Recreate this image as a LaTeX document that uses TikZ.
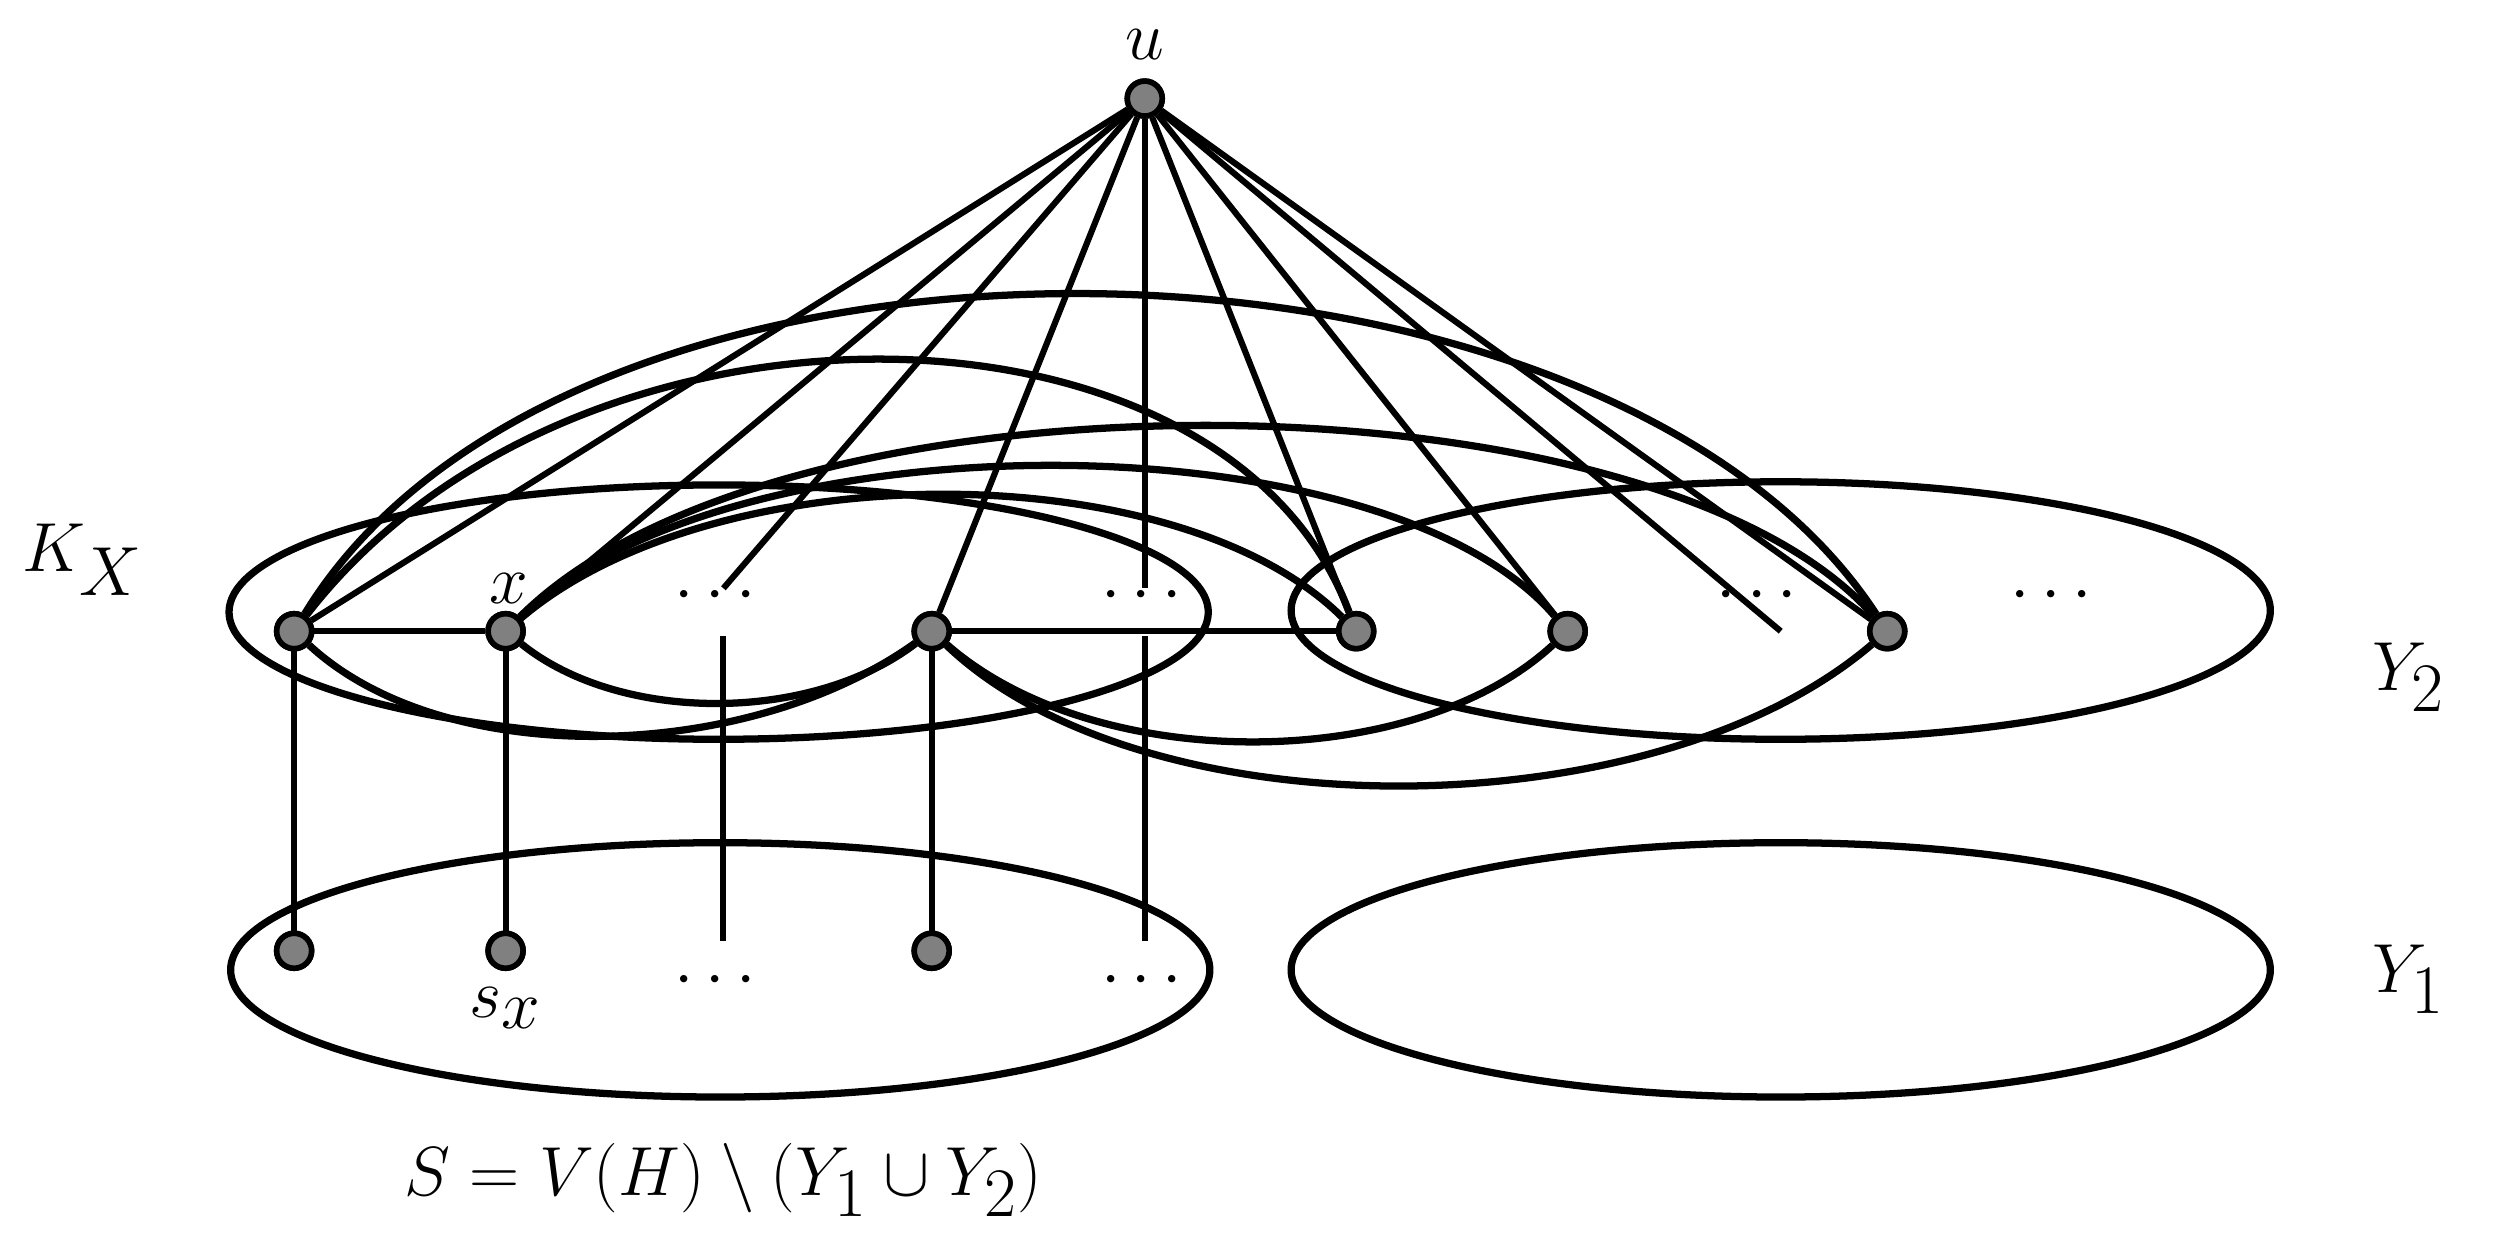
\documentclass[tikz,border=0pt]{standalone}
\begin{document}
\begin{tikzpicture}[x=0.02cm,y=-0.02cm,
  vtx/.style={circle,fill=black!50,draw=black,line width=2pt,inner sep=0pt,minimum size=0.44cm},
  edge/.style={line width=2.2pt},
  arc/.style={line width=2.6pt},
  lab/.style={font=\fontsize{42}{50}\selectfont,inner sep=0pt}]
\useasboundingbox (0,0) rectangle (1568,790);
% ellipses
\draw[line width=2.6pt] (452,385) ellipse [x radius=6.16cm, y radius=1.6cm];
\draw[line width=2.6pt] (1120,384) ellipse [x radius=6.16cm, y radius=1.62cm];
\draw[line width=2.6pt] (453,610) ellipse [x radius=6.16cm, y radius=1.6cm];
\draw[line width=2.6pt] (1120,610) ellipse [x radius=6.16cm, y radius=1.6cm];
% nodes
\node[vtx] (u) at (720,62) {};
\node[vtx] (a1) at (185,397) {};
\node[vtx] (x) at (318,397) {};
\node[vtx] (a3) at (586,397) {};
\node[vtx] (y1) at (853,397) {};
\node[vtx] (y2) at (986,397) {};
\node[vtx] (y3) at (1187,397) {};
\node[vtx] (s1) at (185,598) {};
\node[vtx] (s2) at (318,598) {};
\node[vtx] (s3) at (586,598) {};
\coordinate (d1t) at (455,370);
\coordinate (d1b) at (455,400);
\coordinate (d1e) at (455,592);
\coordinate (d2t) at (720,370);
\coordinate (d2b) at (720,400);
\coordinate (d2e) at (720,592);
\coordinate (d3) at (1120,397);
% labels
\node[lab] (lu) at (720,28) {$u$};
\node[lab] (lx) at (320,370) {$x$};
\node[lab] (lk) at (52,352) {$K_X$};
\node[lab] (ly2) at (1515,426) {$Y_2$};
\node[lab] (ly1) at (1515,616) {$Y_1$};
\node[lab] (lsx) at (318,634) {$s_x$};
\node[lab] (ls) at (455,742) {$S = V(H)\setminus(Y_1\cup Y_2)$};
\foreach \p/\q in {450/375,718/375,1105/375,1290/375,450/617,718/617}
  \node[lab] at (\p,\q) {$\cdots$};
% straight edges
\foreach \t in {a1,x,d1t,a3,d2t,y1,y2,d3,y3}
  \draw[edge] (u) -- (\t);
\draw[edge] (a1) -- (x);
\draw[edge] (a3) -- (y1);
\draw[edge] (a1) -- (s1);
\draw[edge] (x) -- (s2);
\draw[edge] (a3) -- (s3);
\draw[edge] (d1b) -- (d1e);
\draw[edge] (d2b) -- (d2e);
% arcs above
\draw[arc] (a1) .. controls (360,110) and (1010,125) .. (y3);
\draw[arc] (a1) .. controls (360,170) and (770,175) .. (y1);
\draw[arc] (x) .. controls (490,225) and (1040,230) .. (y3);
\draw[arc] (x) .. controls (460,260) and (870,262) .. (y2);
\draw[arc] (x) .. controls (450,285) and (740,285) .. (y1);
% arcs below
\draw[arc] (a1) .. controls (280,485) and (470,480) .. (a3);
\draw[arc] (x) .. controls (390,455) and (510,455) .. (a3);
\draw[arc] (a3) .. controls (690,488) and (890,486) .. (y2);
\draw[arc] (a3) .. controls (720,525) and (1040,523) .. (y3);
% redraw nodes on top
\foreach \n in {u,a1,x,a3,y1,y2,y3,s1,s2,s3}
  \node[vtx] at (\n) {};
\end{tikzpicture}
\end{document}
